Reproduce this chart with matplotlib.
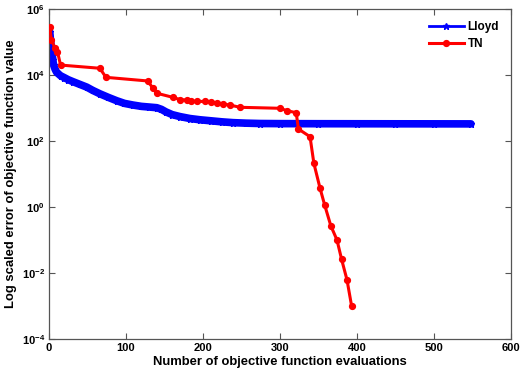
import matplotlib
matplotlib.use("Agg")
import matplotlib.pyplot as plt
from matplotlib.lines import Line2D

# Lloyd series (evaluation number, error)
lloyd_x = [1, 2, 3, 4, 5, 6, 8, 10, 15, 20, 25, 31, 40, 49, 57, 66, 77, 88, 98,
           109, 120, 130, 140, 146, 152, 160, 170, 183, 196, 210, 225, 239, 256,
           274, 300, 350, 400, 450, 500, 548]
lloyd_y = [2.0e5, 1.12e5, 7.1e4, 4.5e4, 2.8e4, 2.0e4, 1.48e4, 1.2e4, 9.5e3,
           8.3e3, 7.2e3, 6.3e3, 5.2e3, 4.3e3, 3.4e3, 2.7e3, 2.1e3, 1.66e3,
           1.38e3, 1.23e3, 1.12e3, 1.07e3, 1.02e3, 9.1e2, 7.6e2, 6.3e2, 5.5e2,
           4.8e2, 4.4e2, 4.1e2, 3.8e2, 3.6e2, 3.47e2, 3.39e2, 3.36e2, 3.34e2,
           3.33e2, 3.32e2, 3.31e2, 3.30e2]

# TN series
tn_x = [1, 3, 8, 11, 15, 66, 74, 128, 135, 140, 161, 170, 179, 184, 192, 203,
        211, 218, 226, 235, 248, 300, 309, 321, 324, 339, 344, 352, 358, 366,
        374, 380, 387, 393]
tn_y = [2.9e5, 1.15e5, 6.5e4, 5.1e4, 2.0e4, 1.6e4, 8.5e3, 6.6e3, 4.0e3, 2.8e3,
        2.1e3, 1.8e3, 1.74e3, 1.62e3, 1.58e3, 1.58e3, 1.55e3, 1.38e3, 1.32e3,
        1.23e3, 1.05e3, 9.8e2, 8.3e2, 7.2e2, 2.3e2, 1.35e2, 21, 3.7, 1.15,
        0.27, 0.1, 0.026, 0.0062, 0.001]

x_ticks = [0, 100, 200, 300, 400, 500, 600]
y_ticks = [1e-4, 1e-2, 1e0, 1e2, 1e4, 1e6]

plt.rcParams['font.family'] = ['Liberation Sans', 'DejaVu Sans']
plt.rcParams['mathtext.fontset'] = 'custom'
plt.rcParams['mathtext.rm'] = 'Liberation Sans:bold'
plt.rcParams['mathtext.default'] = 'rm'

fig = plt.figure(figsize=(5.21, 3.78), dpi=100)
ax = fig.add_axes([49 / 521, 39 / 378, 462 / 521, 330 / 378])

blue = '#0000ff'
red = '#ff0000'
ax.plot(lloyd_x, lloyd_y, color=blue, lw=5.5, solid_joinstyle='round',
        solid_capstyle='round', marker='*', ms=5, zorder=2)
ax.plot(tn_x, tn_y, color=red, lw=2.2, marker='o', ms=4.2, zorder=3)

ax.set_yscale('log')
ax.set_xlim(0, 600)
ax.set_ylim(1e-4, 1e6)
ax.set_xticks(x_ticks)
ax.set_yticks(y_ticks)
ax.minorticks_off()
ax.tick_params(direction='in', length=4, width=0.8, color='#555555',
               labelsize=8, top=True, right=True, pad=3)
for lab in ax.get_xticklabels() + ax.get_yticklabels():
    lab.set_fontweight('bold')
for s in ax.spines.values():
    s.set_color('#555555')
    s.set_linewidth(0.9)

ax.set_xlabel('Number of objective function evaluations', fontsize=9.4,
              fontweight='bold', labelpad=2)
ax.set_ylabel('Log scaled error of objective function value', fontsize=9.4,
              fontweight='bold', labelpad=3)

handles = [Line2D([], [], color=blue, lw=2, marker='*', ms=5),
           Line2D([], [], color=red, lw=2.2, marker='o', ms=4.2)]
ax.legend(handles, ['Lloyd', 'TN'], loc='upper right', frameon=False,
          prop={'weight': 'bold', 'size': 8.5}, handlelength=3.0,
          handletextpad=0.3, labelspacing=0.45, borderaxespad=0.6)

fig.savefig('out.png', dpi=100)
